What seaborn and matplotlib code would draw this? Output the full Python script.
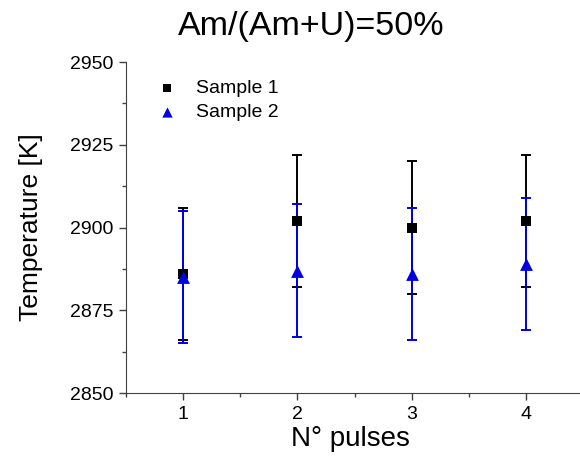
import numpy as np
import pandas as pd
import seaborn as sns
import matplotlib.pyplot as plt
from matplotlib.ticker import MultipleLocator

# values
pulses = [1, 2, 3, 4]
sample1 = [2886, 2902, 2900, 2902]
sample1_err = [20, 20, 20, 20]
sample2 = [2885, 2887, 2886, 2889]
sample2_err = [20, 20, 20, 20]

sns.set_style('ticks')
plt.rcParams['font.family'] = ['Liberation Sans', 'DejaVu Sans']
plt.rcParams['text.color'] = 'black'
plt.rcParams['axes.labelcolor'] = 'black'

data = pd.DataFrame({
    'pulses': pulses * 2,
    'T': sample1 + sample2,
    'err': sample1_err + sample2_err,
    'sample': ['Sample 1'] * 4 + ['Sample 2'] * 4,
})

fig = plt.figure(figsize=(5.8, 4.63), dpi=100)
ax = fig.add_axes([0.217, 0.151, 0.789, 0.715])

colors = {'Sample 1': 'black', 'Sample 2': '#0000e0'}
markers = {'Sample 1': 's', 'Sample 2': '^'}
sizes = {'Sample 1': 55, 'Sample 2': 85}

# error bars first, black then blue
for name in ['Sample 1', 'Sample 2']:
    d = data[data['sample'] == name]
    ax.errorbar(d['pulses'], d['T'], yerr=d['err'], fmt='none',
                ecolor=colors[name], elinewidth=1.4, capsize=3.3, capthick=1.4)

for name in ['Sample 1', 'Sample 2']:
    d = data[data['sample'] == name]
    sns.scatterplot(data=d, x='pulses', y='T', color=colors[name],
                    marker=markers[name], s=sizes[name], linewidth=0,
                    label=name, ax=ax, zorder=5)

ax.set_xlim(0.5, 4.5)
ax.set_ylim(2850, 2950)
ax.set_xticks(pulses)
ax.set_yticks([2850, 2875, 2900, 2925, 2950])
ax.xaxis.set_minor_locator(MultipleLocator(0.5))
ax.yaxis.set_minor_locator(MultipleLocator(12.5))
ax.tick_params(which='major', length=5, width=1, colors='#404040',
               labelsize=14, labelcolor='black', pad=4)
ax.tick_params(which='minor', length=3, width=1, colors='#404040')
for s in ['left', 'bottom']:
    ax.spines[s].set_color('#404040')
sns.despine(ax=ax)

ax.set_xlabel('N° pulses', fontsize=20)
ax.set_ylabel('Temperature [K]', fontsize=19)
ax.xaxis.set_label_coords(0.49, -0.1)
ax.yaxis.set_label_coords(-0.181, 0.5)

handles, labels = ax.get_legend_handles_labels()
leg = ax.legend(handles, labels, loc='upper left', frameon=False, fontsize=14,
                bbox_to_anchor=(0.01, 1.0), handletextpad=0.45, labelspacing=0.32,
                markerscale=0.8)

fig.text(0.537, 0.942, 'Am/(Am+U)=50%', fontsize=24.5, ha='center', va='center')

plt.savefig('out.png', dpi=100)
print('finished')
